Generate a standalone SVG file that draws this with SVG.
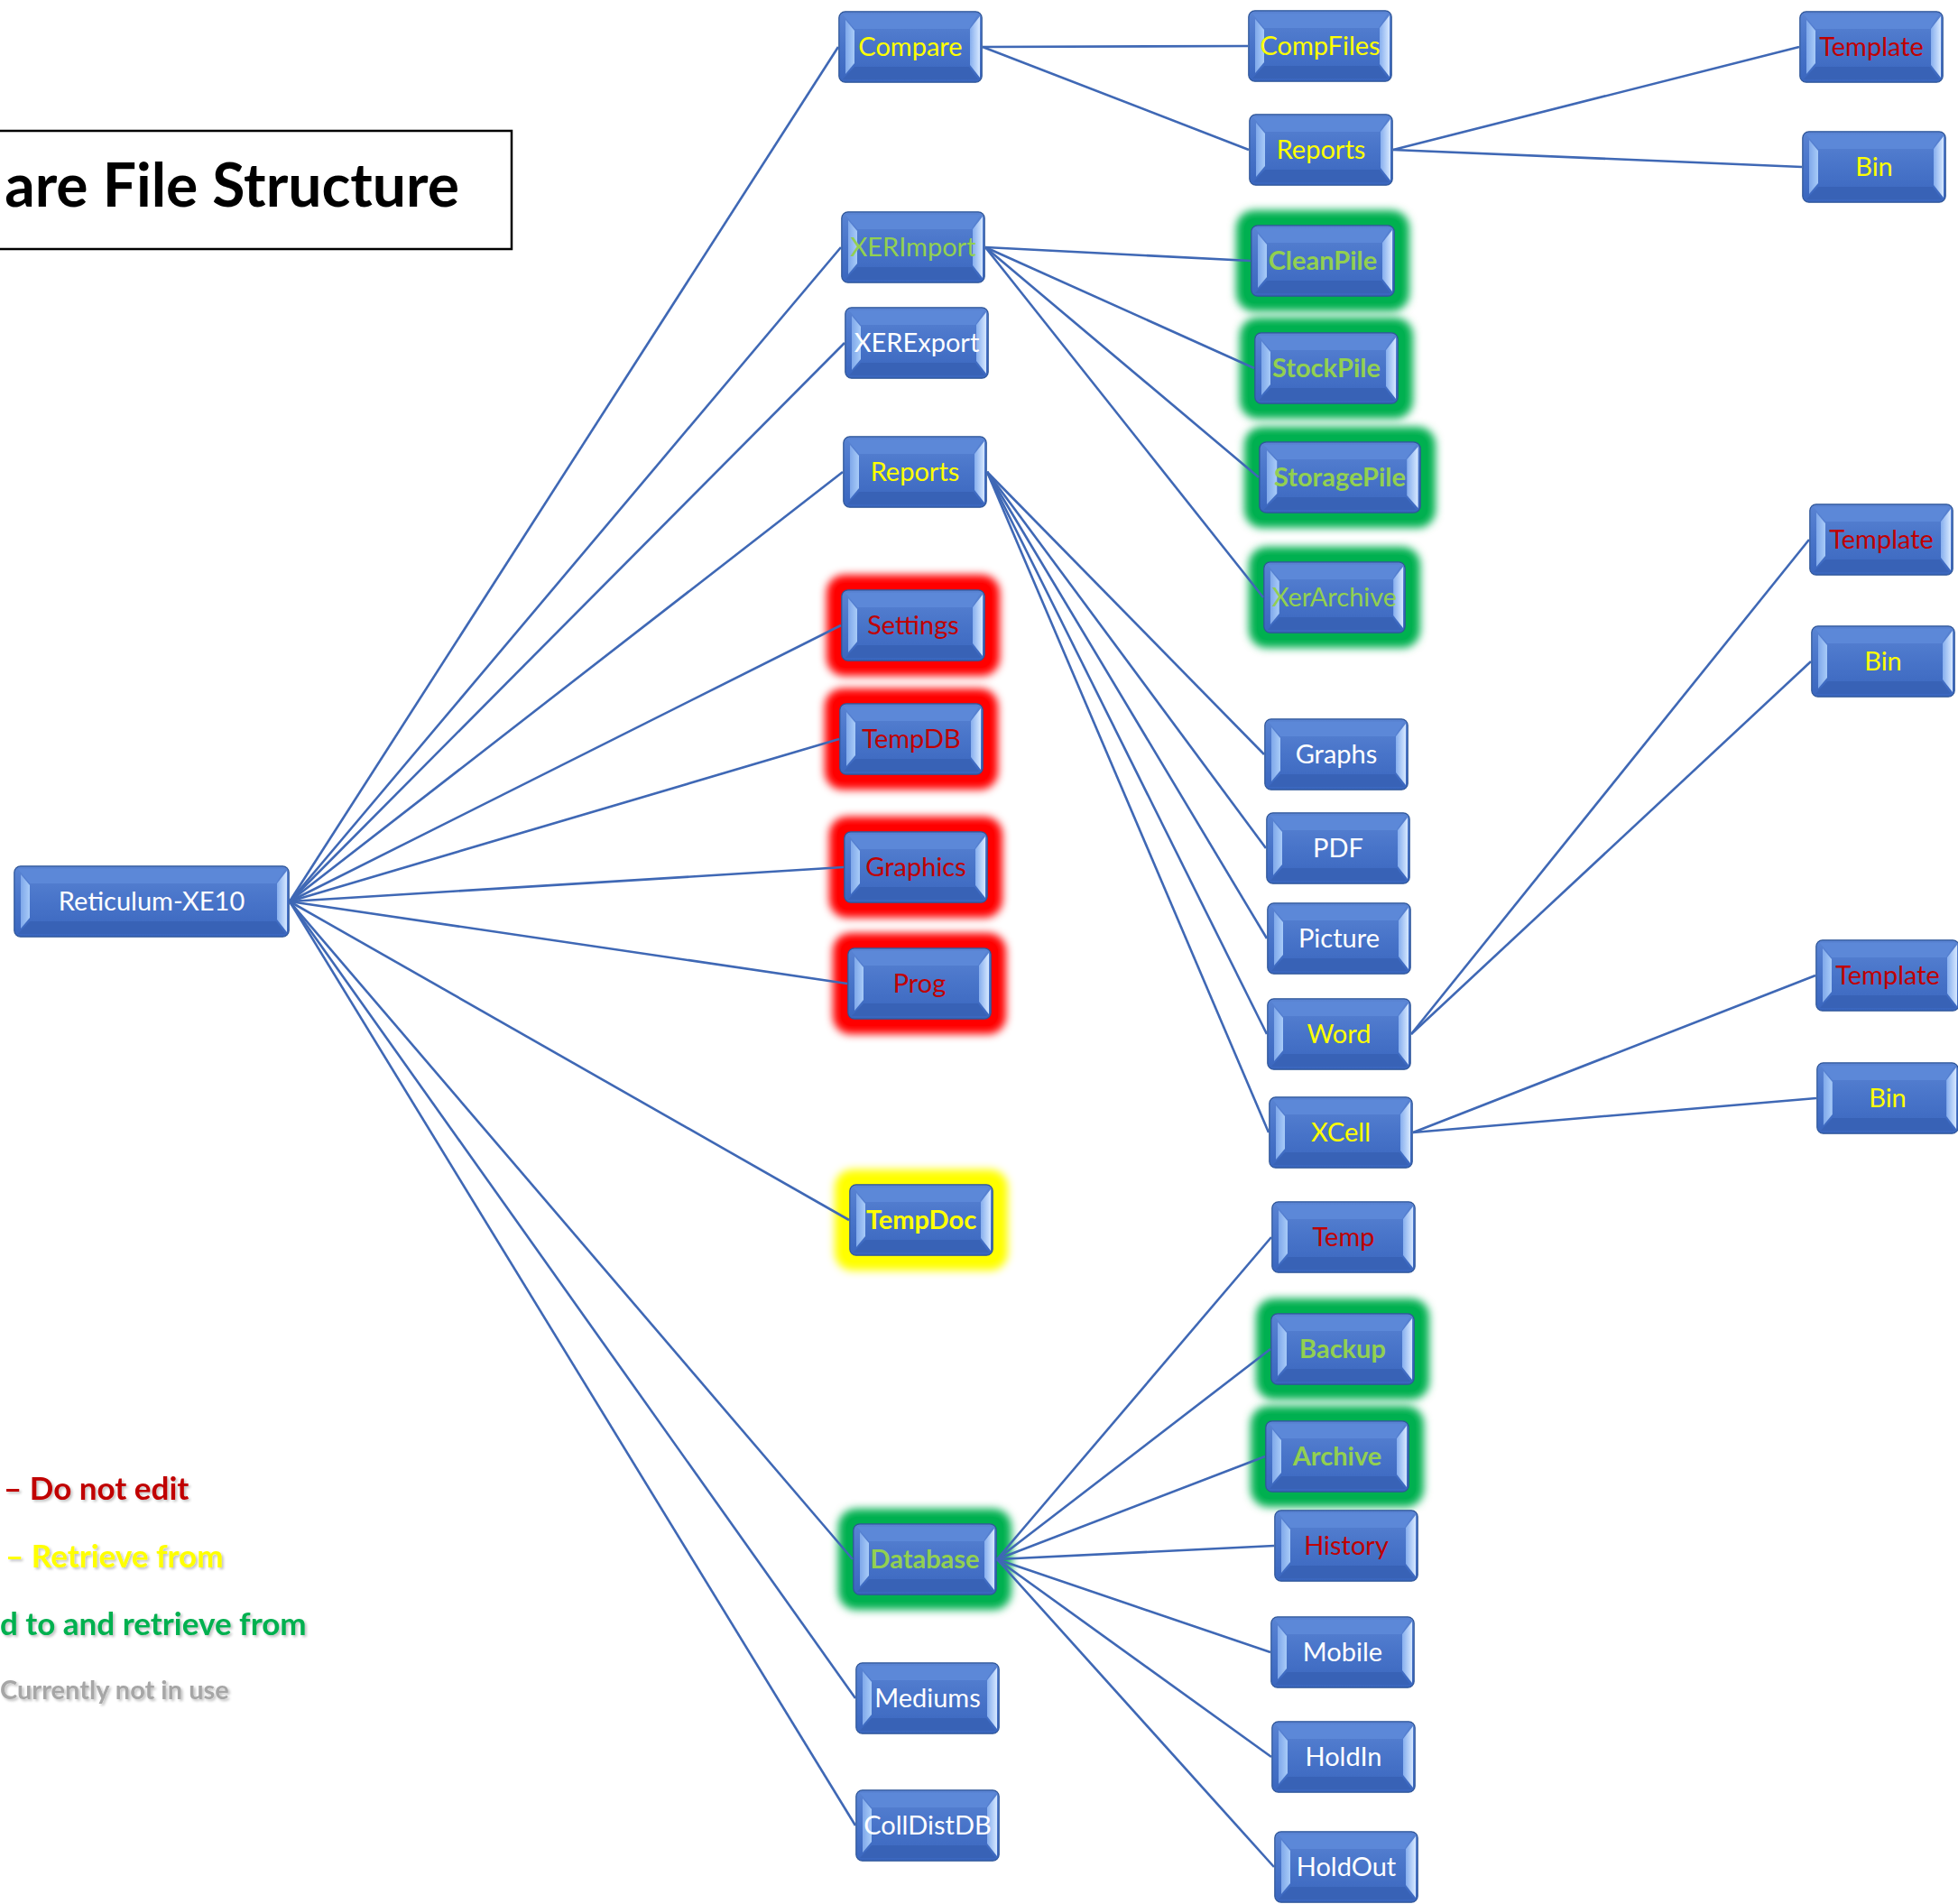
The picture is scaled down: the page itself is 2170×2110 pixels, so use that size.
<svg xmlns="http://www.w3.org/2000/svg" xmlns:xlink="http://www.w3.org/1999/xlink" width="2170" height="2110" viewBox="0 0 2170 2110">
<style>
.lbl{font-family:Lato,"Open Sans","Liberation Sans",sans-serif;font-size:29px;text-anchor:middle}
.b{font-weight:bold}
.w{fill:#FFFFFF}.y{fill:#FFFF00}.r{fill:#C00000}.g{fill:#92D050}
.conn line{stroke:#3F68B5;stroke-width:2.6;fill:none}
.legend{font-family:Lato,"Open Sans","Liberation Sans",sans-serif;font-weight:bold;font-size:35px}
.legend.small{font-size:29px}
.glowR{fill:#FF0000}.glowG{fill:#00B050}.glowY{fill:#FFFF00}
</style>
<defs>
<linearGradient id="body" x1="0" y1="0" x2="0" y2="1">
<stop offset="0" stop-color="#5A84D3"/><stop offset="0.5" stop-color="#4874C9"/><stop offset="1" stop-color="#3A66BE"/>
</linearGradient>
<linearGradient id="lb" x1="0" y1="0" x2="1" y2="0">
<stop offset="0" stop-color="#7FA8EA"/><stop offset="1" stop-color="#A8CBF8"/>
</linearGradient>
<linearGradient id="rb" x1="0" y1="0" x2="1" y2="0">
<stop offset="0" stop-color="#86AEEE"/><stop offset="1" stop-color="#D6E8FF"/>
</linearGradient>
<filter id="blur" x="-30%" y="-50%" width="160%" height="200%"><feGaussianBlur stdDeviation="5"/></filter>
<filter id="shadow" x="-10%" y="-10%" width="130%" height="140%"><feGaussianBlur in="SourceAlpha" stdDeviation="1.5"/><feOffset dx="2" dy="2"/><feComponentTransfer><feFuncA type="linear" slope="0.25"/></feComponentTransfer><feMerge><feMergeNode/><feMergeNode in="SourceGraphic"/></feMerge></filter>
<symbol id="btn" viewBox="0 0 160 80" preserveAspectRatio="none">
<rect x="0.8" y="0.8" width="158.4" height="78.4" rx="7" fill="url(#body)" stroke="#2E5597" stroke-width="1.2"/>
<polygon points="5,4 155,4 145,20 18,20" fill="#5C88D8"/>
<polygon points="5,76 155,76 145,62 18,62" fill="#3862B6"/>
<polygon points="8,10 18,22 18,58 8,70" fill="url(#lb)"/>
<polygon points="157,6 146,20 146,60 157,74" fill="url(#rb)"/>
</symbol>
<symbol id="btnw" viewBox="0 0 306 80" preserveAspectRatio="none">
<rect x="0.8" y="0.8" width="304.4" height="78.4" rx="7" fill="url(#body)" stroke="#2E5597" stroke-width="1.2"/>
<polygon points="5,4 301,4 291,20 18,20" fill="#5C88D8"/>
<polygon points="5,76 301,76 291,62 18,62" fill="#3862B6"/>
<polygon points="8,10 18,22 18,58 8,70" fill="url(#lb)"/>
<polygon points="303,6 292,20 292,60 303,74" fill="url(#rb)"/>
</symbol>
</defs>
<rect width="2170" height="2110" fill="#FFFFFF"/>

<g id="title">
<rect x="-5" y="145" width="572" height="131" fill="none" stroke="#000000" stroke-width="2.5"/>
<text x="509" y="229" font-family="Lato,'Open Sans','Liberation Sans',sans-serif" font-weight="bold" font-size="66" text-anchor="end" fill="#000000">are File Structure</text>
</g>

<g id="legend" filter="url(#shadow)">
<text class="legend" x="4" y="1662" fill="#C00000">– Do not edit</text>
<text class="legend" x="6" y="1737" fill="#FFFF00">– Retrieve from</text>
<text class="legend" x="0" y="1812" fill="#00B050">d to and retrieve from</text>
<text class="legend small" x="0" y="1883" fill="#A6A6A6">Currently not in use</text>
</g>

<g id="nodes">
<g id="n-root"><use href="#btnw" x="15" y="959" width="306" height="80"/><text class="lbl w" x="168" y="1009">Reticulum-XE10</text></g>

<g id="n-compare"><use href="#btn" x="929" y="12" width="160" height="80"/><text class="lbl y" x="1009" y="62">Compare</text></g>
<g id="n-xerimport"><use href="#btn" x="932" y="234" width="160" height="80"/><text class="lbl g" x="1012" y="284">XERImport</text></g>
<g id="n-xerexport"><use href="#btn" x="936" y="340" width="160" height="80"/><text class="lbl w" x="1016" y="390">XERExport</text></g>
<g id="n-reports"><use href="#btn" x="934" y="483" width="160" height="80"/><text class="lbl y" x="1014" y="533">Reports</text></g>
<g id="n-settings"><rect class="glowR" x="916" y="637" width="192" height="112" rx="20" filter="url(#blur)"/><rect class="glowR" x="925" y="646" width="174" height="94" rx="12"/><use href="#btn" x="932" y="653" width="160" height="80"/><text class="lbl r" x="1012" y="703">Settings</text></g>
<g id="n-tempdb"><rect class="glowR" x="914" y="763" width="192" height="112" rx="20" filter="url(#blur)"/><rect class="glowR" x="923" y="772" width="174" height="94" rx="12"/><use href="#btn" x="930" y="779" width="160" height="80"/><text class="lbl r" x="1010" y="829">TempDB</text></g>
<g id="n-graphics"><rect class="glowR" x="919" y="905" width="192" height="112" rx="20" filter="url(#blur)"/><rect class="glowR" x="928" y="914" width="174" height="94" rx="12"/><use href="#btn" x="935" y="921" width="160" height="80"/><text class="lbl r" x="1015" y="971">Graphics</text></g>
<g id="n-prog"><rect class="glowR" x="923" y="1034" width="192" height="112" rx="20" filter="url(#blur)"/><rect class="glowR" x="932" y="1043" width="174" height="94" rx="12"/><use href="#btn" x="939" y="1050" width="160" height="80"/><text class="lbl r" x="1019" y="1100">Prog</text></g>
<g id="n-tempdoc"><rect class="glowY" x="925" y="1296" width="192" height="112" rx="20" filter="url(#blur)"/><rect class="glowY" x="934" y="1305" width="174" height="94" rx="12"/><use href="#btn" x="941" y="1312" width="160" height="80"/><text class="lbl y b" x="1021" y="1362">TempDoc</text></g>
<g id="n-database"><rect class="glowG" x="929" y="1672" width="192" height="112" rx="20" filter="url(#blur)"/><rect class="glowG" x="938" y="1681" width="174" height="94" rx="12"/><use href="#btn" x="945" y="1688" width="160" height="80"/><text class="lbl g b" x="1025" y="1738">Database</text></g>
<g id="n-mediums"><use href="#btn" x="948" y="1842" width="160" height="80"/><text class="lbl w" x="1028" y="1892">Mediums</text></g>
<g id="n-colldistdb"><use href="#btn" x="948" y="1983" width="160" height="80"/><text class="lbl w" x="1028" y="2033">CollDistDB</text></g>

<g id="n-compfiles"><use href="#btn" x="1383" y="11" width="160" height="80"/><text class="lbl y" x="1463" y="61">CompFiles</text></g>
<g id="n-reports2"><use href="#btn" x="1384" y="126" width="160" height="80"/><text class="lbl y" x="1464" y="176">Reports</text></g>
<g id="n-cleanpile"><rect class="glowG" x="1370" y="233" width="192" height="112" rx="20" filter="url(#blur)"/><rect class="glowG" x="1379" y="242" width="174" height="94" rx="12"/><use href="#btn" x="1386" y="249" width="160" height="80"/><text class="lbl g b" x="1466" y="299">CleanPile</text></g>
<g id="n-stockpile"><rect class="glowG" x="1374" y="352" width="192" height="112" rx="20" filter="url(#blur)"/><rect class="glowG" x="1383" y="361" width="174" height="94" rx="12"/><use href="#btn" x="1390" y="368" width="160" height="80"/><text class="lbl g b" x="1470" y="418">StockPile</text></g>
<g id="n-storagepile"><rect class="glowG" x="1379" y="473" width="212" height="112" rx="20" filter="url(#blur)"/><rect class="glowG" x="1388" y="482" width="194" height="94" rx="12"/><use href="#btn" x="1395" y="489" width="180" height="80"/><text class="lbl g b" x="1485" y="539">StoragePile</text></g>
<g id="n-xerarchive"><rect class="glowG" x="1384" y="606" width="190" height="112" rx="20" filter="url(#blur)"/><rect class="glowG" x="1393" y="615" width="172" height="94" rx="12"/><use href="#btn" x="1400" y="622" width="158" height="80"/><text class="lbl g" x="1479" y="672">XerArchive</text></g>
<g id="n-graphs"><use href="#btn" x="1401" y="796" width="160" height="80"/><text class="lbl w" x="1481" y="846">Graphs</text></g>
<g id="n-pdf"><use href="#btn" x="1403" y="900" width="160" height="80"/><text class="lbl w" x="1483" y="950">PDF</text></g>
<g id="n-picture"><use href="#btn" x="1404" y="1000" width="160" height="80"/><text class="lbl w" x="1484" y="1050">Picture</text></g>
<g id="n-word"><use href="#btn" x="1404" y="1106" width="160" height="80"/><text class="lbl y" x="1484" y="1156">Word</text></g>
<g id="n-xcell"><use href="#btn" x="1406" y="1215" width="160" height="80"/><text class="lbl y" x="1486" y="1265">XCell</text></g>
<g id="n-temp"><use href="#btn" x="1409" y="1331" width="160" height="80"/><text class="lbl r" x="1489" y="1381">Temp</text></g>
<g id="n-backup"><rect class="glowG" x="1392" y="1439" width="192" height="112" rx="20" filter="url(#blur)"/><rect class="glowG" x="1401" y="1448" width="174" height="94" rx="12"/><use href="#btn" x="1408" y="1455" width="160" height="80"/><text class="lbl g b" x="1488" y="1505">Backup</text></g>
<g id="n-archive"><rect class="glowG" x="1386" y="1558" width="192" height="112" rx="20" filter="url(#blur)"/><rect class="glowG" x="1395" y="1567" width="174" height="94" rx="12"/><use href="#btn" x="1402" y="1574" width="160" height="80"/><text class="lbl g b" x="1482" y="1624">Archive</text></g>
<g id="n-history"><use href="#btn" x="1412" y="1673" width="160" height="80"/><text class="lbl r" x="1492" y="1723">History</text></g>
<g id="n-mobile"><use href="#btn" x="1408" y="1791" width="160" height="80"/><text class="lbl w" x="1488" y="1841">Mobile</text></g>
<g id="n-holdin"><use href="#btn" x="1409" y="1907" width="160" height="80"/><text class="lbl w" x="1489" y="1957">HoldIn</text></g>
<g id="n-holdout"><use href="#btn" x="1412" y="2029" width="160" height="80"/><text class="lbl w" x="1492" y="2079">HoldOut</text></g>

<g id="n-template1"><use href="#btn" x="1994" y="12" width="160" height="80"/><text class="lbl r" x="2074" y="62">Template</text></g>
<g id="n-bin1"><use href="#btn" x="1997" y="145" width="160" height="80"/><text class="lbl y" x="2077" y="195">Bin</text></g>
<g id="n-template2"><use href="#btn" x="2005" y="558" width="160" height="80"/><text class="lbl r" x="2085" y="608">Template</text></g>
<g id="n-bin2"><use href="#btn" x="2007" y="693" width="160" height="80"/><text class="lbl y" x="2087" y="743">Bin</text></g>
<g id="n-template3"><use href="#btn" x="2012" y="1041" width="160" height="80"/><text class="lbl r" x="2092" y="1091">Template</text></g>
<g id="n-bin3"><use href="#btn" x="2013" y="1177" width="158" height="80"/><text class="lbl y" x="2092" y="1227">Bin</text></g>
</g>

<g id="connectors" class="conn">
<line x1="321" y1="999" x2="929" y2="52"/>
<line x1="321" y1="999" x2="932" y2="274"/>
<line x1="321" y1="999" x2="936" y2="380"/>
<line x1="321" y1="999" x2="934" y2="523"/>
<line x1="321" y1="999" x2="932" y2="693"/>
<line x1="321" y1="999" x2="930" y2="819"/>
<line x1="321" y1="999" x2="935" y2="961"/>
<line x1="321" y1="999" x2="939" y2="1090"/>
<line x1="321" y1="999" x2="941" y2="1352"/>
<line x1="321" y1="999" x2="945" y2="1728"/>
<line x1="321" y1="999" x2="948" y2="1882"/>
<line x1="321" y1="999" x2="948" y2="2023"/>
<line x1="1089" y1="52" x2="1383" y2="51"/>
<line x1="1089" y1="52" x2="1384" y2="166"/>
<line x1="1544" y1="166" x2="1994" y2="52"/>
<line x1="1544" y1="166" x2="1997" y2="185"/>
<line x1="1092" y1="274" x2="1386" y2="289"/>
<line x1="1092" y1="274" x2="1390" y2="408"/>
<line x1="1092" y1="274" x2="1395" y2="529"/>
<line x1="1092" y1="274" x2="1400" y2="662"/>
<line x1="1094" y1="523" x2="1401" y2="836"/>
<line x1="1094" y1="523" x2="1403" y2="940"/>
<line x1="1094" y1="523" x2="1404" y2="1040"/>
<line x1="1094" y1="523" x2="1404" y2="1146"/>
<line x1="1094" y1="523" x2="1406" y2="1255"/>
<line x1="1564" y1="1146" x2="2005" y2="598"/>
<line x1="1564" y1="1146" x2="2007" y2="733"/>
<line x1="1566" y1="1255" x2="2012" y2="1081"/>
<line x1="1566" y1="1255" x2="2013" y2="1217"/>
<line x1="1105" y1="1728" x2="1409" y2="1371"/>
<line x1="1105" y1="1728" x2="1408" y2="1495"/>
<line x1="1105" y1="1728" x2="1402" y2="1614"/>
<line x1="1105" y1="1728" x2="1412" y2="1713"/>
<line x1="1105" y1="1728" x2="1408" y2="1831"/>
<line x1="1105" y1="1728" x2="1409" y2="1947"/>
<line x1="1105" y1="1728" x2="1412" y2="2069"/>
</g>
</svg>
